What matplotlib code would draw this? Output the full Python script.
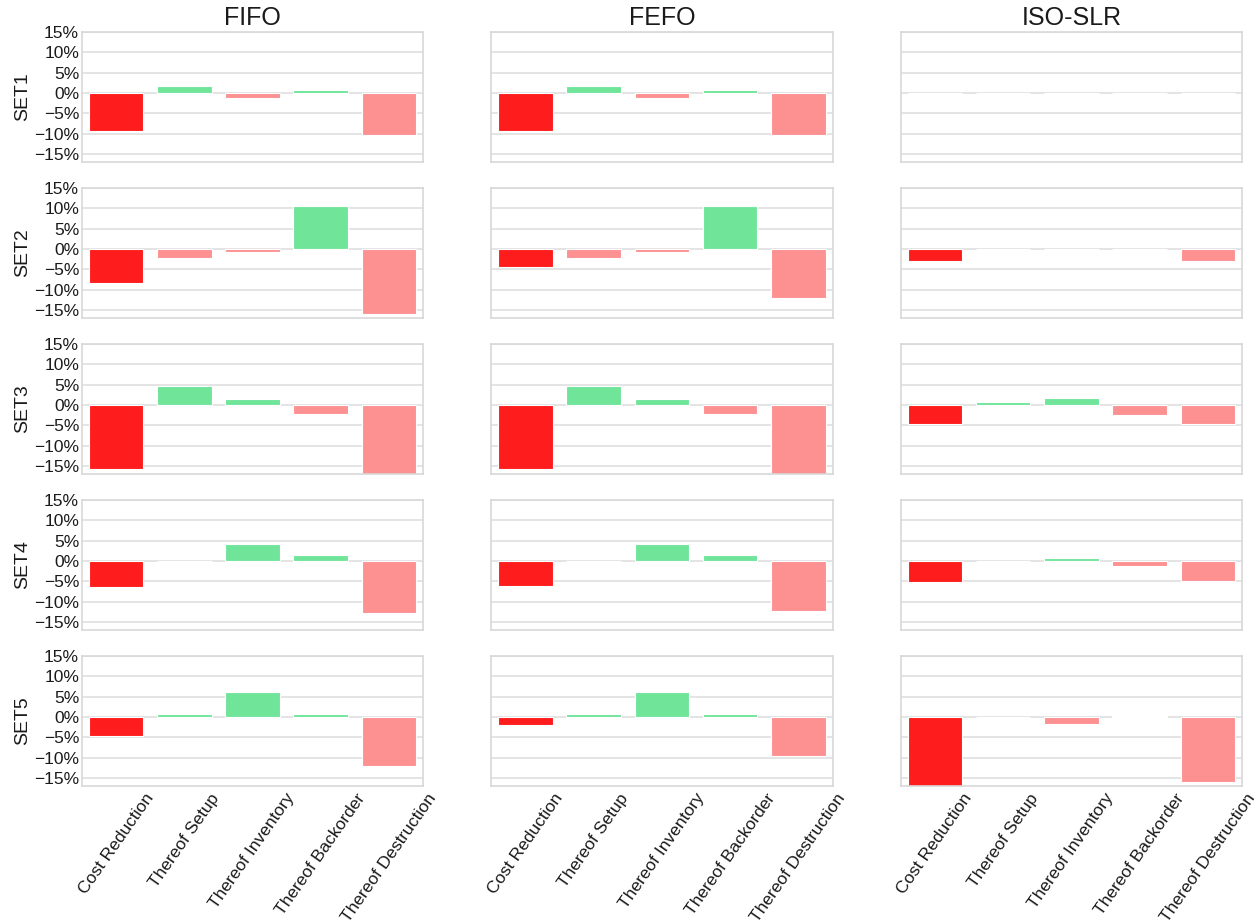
import matplotlib
matplotlib.use("Agg")
import matplotlib.pyplot as plt
import seaborn as sns
from matplotlib.ticker import PercentFormatter

sns.set_style("whitegrid")
plt.rcParams['font.family'] = ['Liberation Sans', 'DejaVu Sans']

categories = ["Cost Reduction", "Thereof Setup", "Thereof Inventory",
              "Thereof Backorder", "Thereof Destruction"]
policies = ["FIFO", "FEFO", "ISO-SLR"]
sets = ["SET1", "SET2", "SET3", "SET4", "SET5"]

# relative change per set, in percent
fifo = [
    [-9.5, 1.8, -1.3, 0.6, -10.3],
    [-8.5, -2.2, -0.8, 10.6, -16.1],
    [-15.9, 4.7, 1.5, -2.2, -19.9],
    [-6.5, 0.0, 4.1, 1.4, -12.8],
    [-4.7, 0.6, 6.2, 0.7, -12.2],
]
fefo = [
    [-9.5, 1.8, -1.3, 0.6, -10.3],
    [-4.5, -2.2, -0.8, 10.6, -12.0],
    [-15.9, 4.7, 1.5, -2.2, -19.9],
    [-6.2, 0.0, 4.1, 1.4, -12.4],
    [-2.0, 0.6, 6.2, 0.7, -9.7],
]
iso_slr = [
    [0.0, 0.0, 0.0, 0.0, 0.0],
    [-2.9, 0.0, 0.0, 0.0, -2.9],
    [-4.6, 0.7, 1.8, -2.4, -4.7],
    [-5.2, 0.0, 0.8, -1.3, -5.0],
    [-17.6, 0.0, -1.8, 0.3, -16.1],
]
results = [fifo, fefo, iso_slr]

RED = "#ff1c1c"
GREEN = "#70e59a"
PINK = "#fd9090"


def bar_colors(vals):
    cols = [RED]
    for v in vals[1:]:
        cols.append(GREEN if v > 0 else PINK)
    return cols


fig, axes = plt.subplots(5, 3, figsize=(12.6, 9.24), dpi=100, sharey=True)
fig.subplots_adjust(left=0.065, right=0.9857, top=0.9654, bottom=0.1494,
                    wspace=0.2, hspace=0.2)

x = list(range(len(categories)))
for c, policy in enumerate(policies):
    for r, s in enumerate(sets):
        ax = axes[r, c]
        vals = results[c][r]
        ax.bar(x, vals, width=0.8, color=bar_colors(vals),
               edgecolor="white", linewidth=0.8, zorder=2)
        ax.set_ylim(-17, 15)
        ax.set_xlim(-0.5, 4.5)
        ax.set_yticks([-15, -10, -5, 0, 5, 10, 15])
        ax.yaxis.set_major_formatter(PercentFormatter(decimals=0))
        ax.grid(axis="x", visible=False)
        ax.grid(axis="y", color="#dddddd", linewidth=1.1, zorder=0)
        ax.set_axisbelow(True)
        for sp in ax.spines.values():
            sp.set_color("#d8d8d8")
            sp.set_linewidth(1.2)
        ax.tick_params(axis="y", labelsize=12.5, pad=2, length=0,
                       labelcolor="#1a1a1a")
        ax.tick_params(axis="x", length=0, labelcolor="#1a1a1a")
        ax.set_xticks(x)
        if r == 4:
            ax.set_xticklabels(categories, rotation=55, fontsize=12.5)
        else:
            ax.set_xticklabels([])
        if r == 0:
            ax.set_title(policy, fontsize=18, pad=5, color="#1a1a1a")
        if c == 0:
            ax.set_ylabel(s, fontsize=14, labelpad=2, color="#1a1a1a")

fig.savefig("out.png", dpi=100)
